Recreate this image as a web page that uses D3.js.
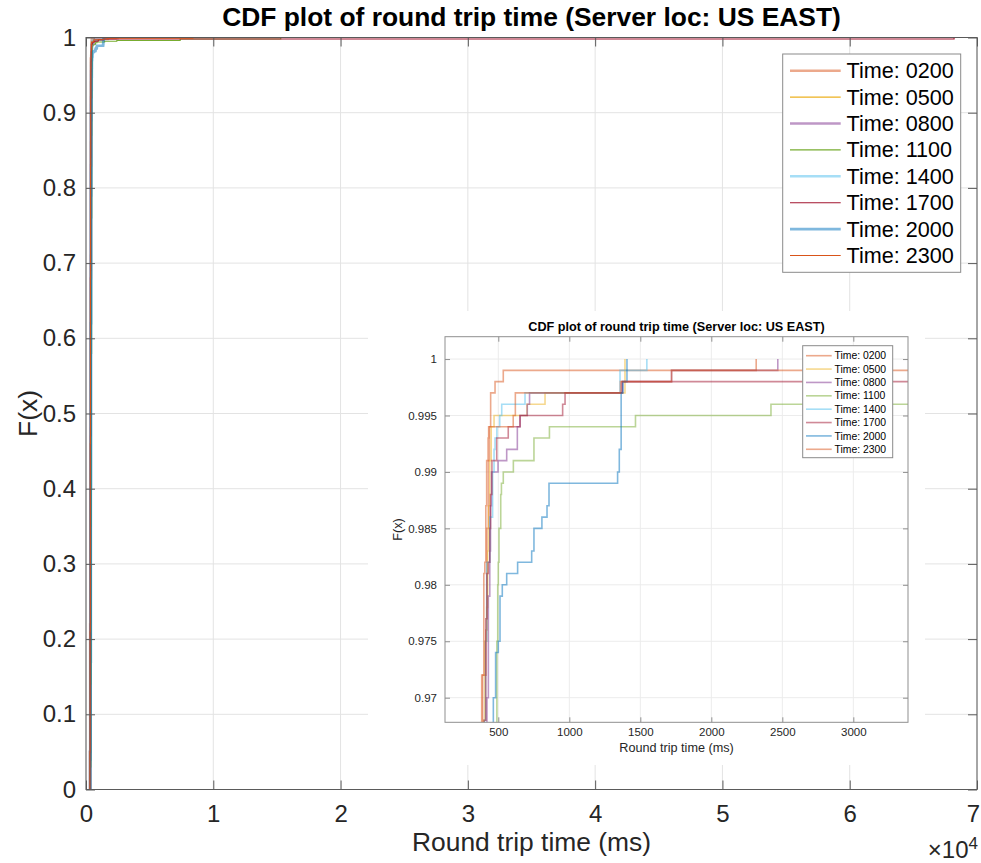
<!DOCTYPE html>
<html>
<head>
<meta charset="utf-8">
<script src="https://cdn.jsdelivr.net/npm/d3@7"></script>
<style>
  body { margin: 0; background: #fff; }
  svg { display: block; font-family: "Liberation Sans", Arial, Helvetica, sans-serif; }
</style>
</head>
<body>
<div id="container"></div>
<script>
// ---- data ----
const timeLabels = ["0200", "0500", "0800", "1100", "1400", "1700", "2000", "2300"];

const rtt0200 = [300, 318, 332, 345, 356, 366, 375, 383, 413, 420, 430, 438, 446, 477, 535, 2316];
const cdf0200 = [0, 0.05, 0.22, 0.48, 0.71, 0.86, 0.94, 0.972, 0.976, 0.985, 0.991, 0.994, 0.997, 0.998, 0.999, 1];

const rtt0500 = [290, 310, 325, 340, 352, 362, 372, 380, 390, 398, 405, 418, 425, 432, 440, 450, 470, 702, 829, 1392];
const cdf0500 = [0, 0.04, 0.18, 0.42, 0.65, 0.82, 0.91, 0.95, 0.963, 0.968, 0.975, 0.978, 0.983, 0.987, 0.991, 0.994, 0.995, 0.996, 0.997, 1];

const rtt0800 = [305, 325, 340, 355, 368, 380, 392, 402, 412, 420, 430, 440, 445, 452, 498, 559, 634, 653, 704, 720, 1375, 1720, 2468];
const cdf0800 = [0, 0.05, 0.2, 0.45, 0.68, 0.83, 0.92, 0.955, 0.966, 0.97, 0.979, 0.983, 0.987, 0.99, 0.991, 0.992, 0.994, 0.995, 0.996, 0.997, 0.998, 0.999, 1];

const rtt1100 = [330, 360, 385, 405, 425, 440, 455, 465, 475, 482, 490, 496, 500, 505, 517, 522, 535, 606, 751, 860, 1466, 2420, 7400, 15300];
const cdf1100 = [0, 0.03, 0.14, 0.35, 0.58, 0.76, 0.87, 0.92, 0.95, 0.962, 0.975, 0.98, 0.982, 0.985, 0.988, 0.989, 0.99, 0.991, 0.993, 0.994, 0.995, 0.996, 0.998, 1];

const rtt1400 = [295, 315, 330, 345, 358, 368, 378, 388, 396, 403, 410, 418, 440, 460, 470, 477, 490, 510, 524, 688, 1357, 1546];
const cdf1400 = [0, 0.05, 0.2, 0.45, 0.67, 0.82, 0.91, 0.95, 0.962, 0.968, 0.975, 0.982, 0.986, 0.99, 0.992, 0.993, 0.994, 0.995, 0.996, 0.997, 0.999, 1];

const rtt1700 = [300, 320, 338, 352, 364, 375, 385, 393, 400, 412, 420, 430, 440, 445, 455, 489, 570, 653, 953, 970, 1370, 68200];
const cdf1700 = [0, 0.05, 0.22, 0.47, 0.69, 0.84, 0.92, 0.955, 0.968, 0.977, 0.981, 0.982, 0.985, 0.988, 0.991, 0.993, 0.994, 0.995, 0.996, 0.997, 0.998, 1];

const rtt2000 = [310, 340, 362, 380, 398, 415, 430, 442, 452, 460, 465, 481, 500, 512, 528, 559, 636, 735, 751, 807, 843, 857, 1340, 1352, 1365, 1377, 1406];
const cdf2000 = [0, 0.04, 0.17, 0.4, 0.62, 0.79, 0.89, 0.93, 0.948, 0.96, 0.97, 0.974, 0.975, 0.979, 0.98, 0.981, 0.982, 0.983, 0.985, 0.986, 0.987, 0.989, 0.99, 0.992, 0.997, 0.998, 1];

const rtt2300 = [285, 305, 320, 335, 348, 360, 370, 380, 390, 398, 405, 412, 418, 428, 432, 605, 620, 1360, 1720, 8400];
const cdf2300 = [0, 0.05, 0.21, 0.46, 0.68, 0.83, 0.92, 0.96, 0.972, 0.981, 0.982, 0.987, 0.991, 0.993, 0.994, 0.995, 0.997, 0.998, 0.999, 1];

const seriesRtt = [rtt0200, rtt0500, rtt0800, rtt1100, rtt1400, rtt1700, rtt2000, rtt2300];
const seriesCdf = [cdf0200, cdf0500, cdf0800, cdf1100, cdf1400, cdf1700, cdf2000, cdf2300];

const mainXTicks = [0, 10000, 20000, 30000, 40000, 50000, 60000, 70000];
const mainYTicks = [0, 0.1, 0.2, 0.3, 0.4, 0.5, 0.6, 0.7, 0.8, 0.9, 1];
const insetXTicks = [500, 1000, 1500, 2000, 2500, 3000];
const insetYTicks = [0.97, 0.975, 0.98, 0.985, 0.99, 0.995, 1];

// ---- styles ----
const colors = ["#D95319", "#EDB120", "#7E2F8E", "#77AC30", "#4DBEEE", "#A2142F", "#0072BD", "#D95319"];
const mainWidth = [2.6, 1.1, 2.6, 1.1, 2.6, 1.1, 2.6, 1.1];
const mainAlpha = [0.5, 1, 0.5, 1, 0.5, 1, 0.5, 1];

const width = 981, height = 863;
const svg = d3.select("div#container").append("svg")
    .attr("width", width)
    .attr("height", height);

const seriesData = seriesRtt.map((r, i) => d3.zip(r, seriesCdf[i]));

// draws one MATLAB-like axes; returns the bottom axis group
function drawAxes(g, opt) {
    const xScale = d3.scaleLinear().domain(opt.xDomain).range([opt.left, opt.right]);
    const yScale = d3.scaleLinear().domain(opt.yDomain).range([opt.bottom, opt.top]);

    // grid
    g.append("g").selectAll("line").data(opt.xTicks).join("line")
        .attr("x1", d => xScale(d)).attr("x2", d => xScale(d))
        .attr("y1", opt.top).attr("y2", opt.bottom)
        .attr("stroke", opt.gridColor).attr("stroke-width", 1);
    g.append("g").selectAll("line").data(opt.yTicks).join("line")
        .attr("x1", opt.left).attr("x2", opt.right)
        .attr("y1", d => yScale(d)).attr("y2", d => yScale(d))
        .attr("stroke", opt.gridColor).attr("stroke-width", 1);

    const clipId = opt.name + "-clip";
    g.append("clipPath").attr("id", clipId).append("rect")
        .attr("x", opt.left).attr("y", opt.top)
        .attr("width", opt.right - opt.left).attr("height", opt.bottom - opt.top);

    const line = d3.line()
        .x(d => xScale(d[0]))
        .y(d => yScale(d[1]))
        .curve(d3.curveStepAfter);

    g.append("g").attr("clip-path", "url(#" + clipId + ")")
        .selectAll("path").data(seriesData).join("path")
        .attr("d", d => line(d))
        .attr("fill", "none")
        .attr("stroke", (d, i) => colors[i])
        .attr("stroke-width", (d, i) => opt.lineWidth[i])
        .attr("stroke-opacity", (d, i) => opt.lineAlpha[i]);

    const ts = opt.tickLen;
    const xaxis = d3.axisBottom(xScale).tickValues(opt.xTicks).tickFormat(opt.xFormat)
        .tickSizeInner(-ts).tickSizeOuter(0).tickPadding(opt.xPad);
    const yaxis = d3.axisLeft(yScale).tickValues(opt.yTicks).tickFormat(opt.yFormat)
        .tickSizeInner(-ts).tickSizeOuter(0).tickPadding(opt.yPad);
    const xtop = d3.axisTop(xScale).tickValues(opt.xTicks).tickFormat("")
        .tickSizeInner(-ts).tickSizeOuter(0);
    const yright = d3.axisRight(yScale).tickValues(opt.yTicks).tickFormat("")
        .tickSizeInner(-ts).tickSizeOuter(0);

    const axes = [
        g.append("g").attr("transform", "translate(0," + opt.bottom + ")").call(xaxis),
        g.append("g").attr("transform", "translate(" + opt.left + ",0)").call(yaxis),
        g.append("g").attr("transform", "translate(0," + opt.top + ")").call(xtop),
        g.append("g").attr("transform", "translate(" + opt.right + ",0)").call(yright)
    ];
    axes.forEach(a => {
        a.select(".domain").remove();
        a.selectAll(".tick line").attr("stroke", opt.axisColor);
        a.selectAll(".tick text").attr("fill", "#262626")
            .style("font-size", opt.fontSize + "px")
            .style("font-family", "'Liberation Sans', Arial, Helvetica, sans-serif");
    });

    g.append("rect")
        .attr("x", opt.left).attr("y", opt.top)
        .attr("width", opt.right - opt.left).attr("height", opt.bottom - opt.top)
        .attr("fill", "none").attr("stroke", opt.axisColor).attr("stroke-width", 1);

    // title / labels
    const cx = (opt.left + opt.right) / 2;
    g.append("text").attr("x", cx).attr("y", opt.titleY)
        .attr("text-anchor", "middle").style("font-weight", "bold")
        .style("font-size", opt.fontSize * 1.1 + "px").attr("fill", "#000")
        .text("CDF plot of round trip time (Server loc: US EAST)");
    g.append("text").attr("x", cx).attr("y", opt.xLabelY)
        .attr("text-anchor", "middle")
        .style("font-size", opt.fontSize * 1.1 + "px").attr("fill", "#262626")
        .text("Round trip time (ms)");
    g.append("text")
        .attr("transform", "translate(" + opt.yLabelX + "," + (opt.top + opt.bottom) / 2 + ") rotate(-90)")
        .attr("text-anchor", "middle")
        .style("font-size", opt.fontSize * 1.1 + "px").attr("fill", "#262626")
        .text("F(x)");

    // legend
    const lg = opt.legend;
    g.append("rect").attr("x", lg.x).attr("y", lg.y).attr("width", lg.w).attr("height", lg.h)
        .attr("fill", "#fff").attr("stroke", lg.edge).attr("stroke-width", 1);
    timeLabels.forEach((t, i) => {
        const yy = lg.y0 + i * lg.step;
        g.append("line")
            .attr("x1", lg.lx1).attr("x2", lg.lx2).attr("y1", yy).attr("y2", yy)
            .attr("stroke", colors[i])
            .attr("stroke-width", opt.lineWidth[i])
            .attr("stroke-opacity", opt.lineAlpha[i]);
        g.append("text").attr("x", lg.tx).attr("y", yy).attr("dy", "0.35em")
            .style("font-size", lg.fontSize + "px").attr("fill", "#000")
            .text("Time: " + t);
    });
    return axes[0];
}

// main axes
const mainG = svg.append("g");
const mainBottom = drawAxes(mainG, {
    name: "main",
    left: 86, right: 977, top: 37.5, bottom: 789.5,
    xDomain: [0, 70000], yDomain: [0, 1],
    xTicks: mainXTicks, yTicks: mainYTicks,
    xFormat: d => d / 10000, yFormat: d => String(d),
    gridColor: "#e3e3e3", axisColor: "#5a5a5a",
    lineWidth: mainWidth, lineAlpha: mainAlpha,
    tickLen: 9, xPad: 15, yPad: 10, fontSize: 24,
    titleY: 26, xLabelY: 851, yLabelX: 37,
    legend: { x: 782.7, y: 54, w: 178, h: 218.3, edge: "#8a8a8a",
              y0: 70.7, step: 26.4, lx1: 790, lx2: 840.7, tx: 846.5, fontSize: 21.6 }
});
// keep the last label ("7") inside the page
mainBottom.selectAll(".tick text").filter(d => d === 70000).attr("dx", -4);

// x10^4 multiplier
const mult = mainG.append("text").attr("x", 978).attr("y", 858)
    .attr("text-anchor", "end").style("font-size", "24px").attr("fill", "#262626");
mult.append("tspan").text("\u00d710");
mult.append("tspan").attr("dy", "-9").style("font-size", "17px").text("4");

// inset figure (white backdrop hides main grid)
const insetG = svg.append("g");
insetG.append("rect").attr("x", 368).attr("y", 311).attr("width", 557).attr("height", 454)
    .attr("fill", "#fff");
drawAxes(insetG, {
    name: "inset",
    left: 445, right: 908, top: 336.7, bottom: 722.3,
    xDomain: [124.6, 3385], yDomain: [0.96782, 1.00198],
    xTicks: insetXTicks, yTicks: insetYTicks,
    xFormat: d => String(d), yFormat: d => String(d),
    gridColor: "#ececec", axisColor: "#8f8f8f",
    lineWidth: [1.6, 1.6, 1.6, 1.6, 1.6, 1.6, 1.6, 1.6],
    lineAlpha: [0.5, 0.5, 0.5, 0.5, 0.5, 0.5, 0.5, 0.5],
    tickLen: 5, xPad: 6, yPad: 8, fontSize: 11.5,
    titleY: 331, xLabelY: 752, yLabelX: 402,
    legend: { x: 802.7, y: 345.7, w: 90, h: 112, edge: "#8a8a8a",
              y0: 355.7, step: 13.37, lx1: 806, lx2: 831.7, tx: 834.5, fontSize: 10.4 }
});
</script>
</body>
</html>
